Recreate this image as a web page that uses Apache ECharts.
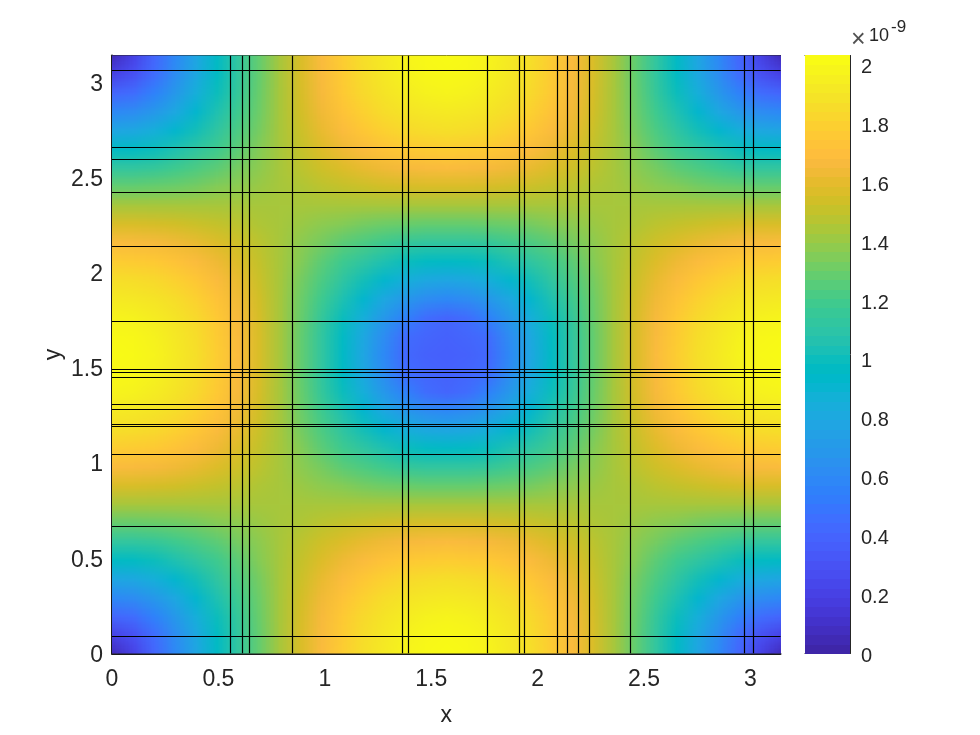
<!DOCTYPE html>
<html><head><meta charset="utf-8">
<style>html,body{margin:0;padding:0;background:#fff}#c{width:980px;height:735px}</style>
<script src="https://cdn.jsdelivr.net/npm/echarts@6/dist/echarts.min.js"></script>
</head><body><div id="c"></div>
<script>
// Values, in units of 0.01 x 10^-9
const R0=[5,20,40,59,78,96,113,129,144,157,169,179,188,194,199,202,203,202,199,194,188,179,169,157,144,129,113,96,78,59,40,20,5];
const R1=[20,28,44,62,80,97,113,129,144,157,168,178,187,193,198,201,202,201,198,193,187,178,168,157,144,129,113,97,80,62,44,28,20];
const R2=[40,44,55,69,85,100,115,130,144,156,167,177,185,191,195,198,199,198,195,191,185,177,167,156,144,130,115,100,85,69,55,44,40];
const R3=[59,62,69,80,92,105,119,131,144,155,165,174,181,187,191,193,194,193,191,187,181,174,165,155,144,131,119,105,92,80,69,62,59];
const R4=[78,80,85,92,102,112,123,133,144,153,162,169,176,181,185,187,188,187,185,181,176,169,162,153,144,133,123,112,102,92,85,80,78];
const R5=[96,97,100,105,112,119,127,136,144,151,158,164,169,174,177,178,179,178,177,174,169,164,158,151,144,136,127,119,112,105,100,97,96];
const R6=[113,113,115,119,123,127,133,138,144,149,154,158,162,165,167,168,169,168,167,165,162,158,154,149,144,138,133,127,123,119,115,113,113];
const R7=[129,129,130,131,133,136,138,141,144,146,149,151,153,155,156,157,157,157,156,155,153,151,149,146,144,141,138,136,133,131,130,129,129];
const R8=[144,144,144,144,144,144,144,144,144,144,144,144,144,144,144,144,144,144,144,144,144,144,144,144,144,144,144,144,144,144,144,144,144];
const N7=[157,157,156,155,153,151,149,146,144,141,138,136,133,131,130,129,129,129,130,131,133,136,138,141,144,146,149,151,153,155,156,157,157];
const N6=[169,168,167,165,162,158,154,149,144,138,133,127,123,119,115,113,113,113,115,119,123,127,133,138,144,149,154,158,162,165,167,168,169];
const N5=[179,178,177,174,169,164,158,151,144,136,127,119,112,105,100,97,96,97,100,105,112,119,127,136,144,151,158,164,169,174,177,178,179];
const N4=[188,187,185,181,176,169,162,153,144,133,123,112,102,92,85,80,78,80,85,92,102,112,123,133,144,153,162,169,176,181,185,187,188];
const N3=[194,193,191,187,181,174,165,155,144,131,119,105,92,80,69,62,59,62,69,80,92,105,119,131,144,155,165,174,181,187,191,193,194];
const N2=[199,198,195,191,185,177,167,156,144,130,115,100,85,69,55,44,40,44,55,69,85,100,115,130,144,156,167,177,185,191,195,198,199];
const N1=[202,201,198,193,187,178,168,157,144,129,113,97,80,62,44,40,38,40,44,62,80,97,113,129,144,157,168,178,187,193,198,201,202];
const N0=[203,202,199,194,188,179,169,157,144,129,113,96,78,59,42,38,37,38,42,59,78,96,113,129,144,157,169,179,188,194,199,202,203];
const heatRows=[R0,R1,R2,R3,R4,R5,R6,R7,R8,N7,N6,N5,N4,N3,N2,N1,N0,N1,N2,N3,N4,N5,N6,N7,R8,R7,R6,R5,R4,R3,R2,R1,R0];
const xNodes=[0,0.098,0.196,0.295,0.393,0.491,0.589,0.687,0.785,0.884,0.982,1.08,1.178,1.276,1.374,1.473,1.571,1.669,1.767,1.865,1.963,2.062,2.16,2.258,2.356,2.454,2.553,2.651,2.749,2.847,2.945,3.043,3.142];
const yNodes=[0,0.098,0.196,0.295,0.393,0.491,0.589,0.687,0.785,0.884,0.982,1.08,1.178,1.276,1.374,1.473,1.571,1.669,1.767,1.865,1.963,2.062,2.16,2.258,2.356,2.454,2.553,2.651,2.749,2.847,2.945,3.043,3.142];
const meshX=[0.553,0.610,0.642,0.844,1.362,1.393,1.760,1.912,1.938,2.093,2.137,2.192,2.243,2.436,2.971,3.014];
const meshY=[0.092,0.668,1.046,1.195,1.204,1.283,1.309,1.451,1.480,1.493,1.745,2.139,2.427,2.596,2.659,3.068];
const xTicks=[0,0.5,1,1.5,2,2.5,3];
const yTicks=[0,0.5,1,1.5,2,2.5,3];
const barTicks=[0,0.2,0.4,0.6,0.8,1,1.2,1.4,1.6,1.8,2];
const domainMax=3.1416, barMax=2.03;
const parula=[[.2422,.1504,.6603],[.2504,.1650,.7076],[.2578,.1818,.7511],[.2647,.1978,.7952],[.2706,.2147,.8364],[.2751,.2342,.8710],[.2783,.2559,.8991],[.2803,.2782,.9221],[.2813,.3006,.9414],[.2810,.3228,.9579],[.2795,.3447,.9717],[.2760,.3667,.9829],[.2699,.3892,.9906],[.2602,.4123,.9952],[.2440,.4358,.9988],[.2206,.4603,.9973],[.1963,.4847,.9892],[.1834,.5074,.9798],[.1786,.5289,.9682],[.1764,.5499,.9520],[.1687,.5703,.9359],[.1540,.5902,.9218],[.1460,.6091,.9079],[.1380,.6276,.8973],[.1248,.6459,.8883],[.1113,.6635,.8763],[.0952,.6798,.8598],[.0689,.6948,.8394],[.0297,.7082,.8163],[.0036,.7203,.7917],[.0067,.7312,.7660],[.0433,.7411,.7394],[.0964,.7500,.7120],[.1408,.7584,.6842],[.1717,.7670,.6554],[.1938,.7758,.6251],[.2161,.7843,.5923],[.2470,.7918,.5567],[.2906,.7973,.5188],[.3406,.8008,.4789],[.3909,.8029,.4354],[.4456,.8024,.3909],[.5044,.7993,.3480],[.5616,.7942,.3045],[.6174,.7876,.2612],[.6720,.7793,.2227],[.7242,.7698,.1910],[.7738,.7598,.1646],[.8203,.7498,.1535],[.8634,.7406,.1596],[.9035,.7330,.1774],[.9393,.7288,.2100],[.9728,.7298,.2394],[.9956,.7434,.2371],[.9970,.7659,.2199],[.9952,.7893,.2028],[.9892,.8136,.1885],[.9786,.8386,.1766],[.9676,.8639,.1643],[.9610,.8890,.1537],[.9597,.9135,.1423],[.9628,.9373,.1265],[.9691,.9606,.1064],[.9769,.9839,.0805]];

const FONT='"Liberation Sans", Arial, sans-serif', INK='#262626', FS=23, BAR_FS=20;
const rgb=c=>'rgb('+c.map(v=>Math.round(v*255)).join(',')+')';
const palette=parula.map(rgb);
const lerpRGB=v=>{const t=Math.max(0,Math.min(1,v/barMax))*63,i=Math.min(62,Math.floor(t)),f=t-i;
  return parula[i].map((c,k)=>Math.round((c+(parula[i+1][k]-c)*f)*255));};

// heat field data: x, y, value
const heatData=[];
heatRows.forEach((row,j)=>row.forEach((v,i)=>heatData.push([xNodes[i],yNodes[j],v/100])));

// painted once at node resolution; the browser's image smoothing shades between nodes, as 'shading interp' does
const field=document.createElement('canvas');
field.width=xNodes.length;field.height=yNodes.length;
(function(){const g=field.getContext('2d'),im=g.createImageData(field.width,field.height);
  heatRows.forEach((row,j)=>row.forEach((v,i)=>{const p=((field.height-1-j)*field.width+i)*4,c=lerpRGB(v/100);
    im.data[p]=c[0];im.data[p+1]=c[1];im.data[p+2]=c[2];im.data[p+3]=255;}));
  g.putImageData(im,0,0);})();

const axisCommon=(ticks,extra)=>Object.assign({type:'value',min:0,max:domainMax,splitLine:{show:false},
  axisLine:{show:true,onZero:false,lineStyle:{color:INK,width:1}},
  axisTick:{show:true,inside:true,length:6,customValues:ticks,lineStyle:{color:INK,width:1}}},extra);
const heavy={show:true,onZero:false,lineStyle:{color:'#1a1a1a',width:2}};

const option={
  animation:false,backgroundColor:'#fff',
  grid:[{left:112,top:55.5,width:668.5,height:598},{left:805,top:55.5,width:45,height:598}],
  xAxis:[
    axisCommon(xTicks,{gridIndex:0,position:'bottom',name:'x',nameLocation:'middle',nameGap:51,axisLine:heavy,
      nameTextStyle:{fontFamily:FONT,fontSize:FS,color:INK},
      axisLabel:{show:true,customValues:xTicks,margin:15,fontFamily:FONT,fontSize:FS,color:INK,formatter:String}}),
    axisCommon(xTicks,{gridIndex:0,position:'top',axisLabel:{show:false}}),
    {type:'value',gridIndex:1,min:0,max:1,position:'bottom',splitLine:{show:false},axisTick:{show:false},axisLabel:{show:false},axisLine:{show:true,onZero:false,lineStyle:{color:INK}}},
    {type:'value',gridIndex:1,min:0,max:1,position:'top',splitLine:{show:false},axisTick:{show:false},axisLabel:{show:false},axisLine:{show:true,onZero:false,lineStyle:{color:INK}}}
  ],
  yAxis:[
    axisCommon(yTicks,{gridIndex:0,position:'left',name:'y',nameLocation:'middle',nameGap:47,nameMoveOverlap:false,nameRotate:90,axisLine:heavy,
      nameTextStyle:{fontFamily:FONT,fontSize:FS,color:INK},
      axisLabel:{show:true,customValues:yTicks,margin:9,formatter:v=>'{a|'+v+'}',
        rich:{a:{fontFamily:FONT,fontSize:FS,color:INK,padding:[4,0,0,0]}}}}),
    axisCommon(yTicks,{gridIndex:0,position:'right',axisLabel:{show:false}}),
    {type:'value',gridIndex:1,min:0,max:barMax,position:'right',splitLine:{show:false},
      axisLine:{show:true,onZero:false,lineStyle:{color:INK}},
      axisTick:{show:true,inside:true,length:5,customValues:barTicks,lineStyle:{color:INK}},
      axisLabel:{show:true,customValues:barTicks,margin:11,formatter:v=>'{a|'+v+'}',
        rich:{a:{fontFamily:FONT,fontSize:BAR_FS,color:INK,padding:[6,0,0,0]}}}},
    {type:'value',gridIndex:1,min:0,max:barMax,position:'left',splitLine:{show:false},axisTick:{show:false},axisLabel:{show:false},axisLine:{show:true,onZero:false,lineStyle:{color:INK}}}
  ],
  series:[
    {type:'custom',name:'field',xAxisIndex:0,yAxisIndex:0,clip:true,silent:true,z:1,data:heatData,
      encode:{x:0,y:1},
      renderItem(params,api){
        if(params.dataIndex!==0) return null;
        const a=api.coord([xNodes[0],yNodes[0]]),b=api.coord([xNodes[32],yNodes[32]]);
        const dx=(b[0]-a[0])/32/2,dy=(a[1]-b[1])/32/2;
        return {type:'image',style:{image:field,x:a[0]-dx,y:b[1]-dy,width:b[0]-a[0]+2*dx,height:a[1]-b[1]+2*dy}};
      }},
    {type:'custom',name:'meshX',xAxisIndex:0,yAxisIndex:0,clip:true,silent:true,z:3,data:meshX.map(v=>[v]),
      encode:{x:0},
      renderItem(params,api){
        const v=api.value(0),p=api.coord([v,0]),q=api.coord([v,domainMax]),x=Math.round(p[0])+0.5;
        return {type:'line',shape:{x1:x,y1:p[1],x2:x,y2:q[1]},style:{stroke:'#000',lineWidth:1.2}};
      }},
    {type:'custom',name:'meshY',xAxisIndex:0,yAxisIndex:0,clip:true,silent:true,z:3,data:meshY.map(v=>[0,v]),
      encode:{y:1},
      renderItem(params,api){
        const v=api.value(1),p=api.coord([0,v]),q=api.coord([domainMax,v]),y=Math.round(p[1])+0.5;
        return {type:'line',shape:{x1:p[0],y1:y,x2:q[0],y2:y},style:{stroke:'#000',lineWidth:1.2}};
      }},
    {type:'custom',name:'colourbar',xAxisIndex:2,yAxisIndex:2,silent:true,z:1,data:palette.map((c,k)=>[k]),
      encode:{y:0},
      renderItem(params,api){
        const k=api.value(0),n=palette.length;
        const a=api.coord([0,k/n*barMax]),b=api.coord([1,(k+1)/n*barMax]);
        const top=Math.floor(b[1]),bot=Math.ceil(a[1]);
        return {type:'rect',shape:{x:a[0],y:top,width:b[0]-a[0],height:bot-top},style:{fill:palette[k]}};
      }}
  ],
  graphic:[
    {type:'text',left:851,top:28,style:{text:'×',fontFamily:FONT,fontSize:25,fill:INK,opacity:0.8}},
    {type:'text',left:869,top:27,style:{text:'10',fontFamily:FONT,fontSize:18,fill:INK}},
    {type:'text',left:891,top:19,style:{text:'-9',fontFamily:FONT,fontSize:17,fill:INK}}
  ]
};
const chart=echarts.init(document.getElementById('c'),null,{renderer:'canvas',width:980,height:735});
chart.setOption(option);
</script></body></html>
